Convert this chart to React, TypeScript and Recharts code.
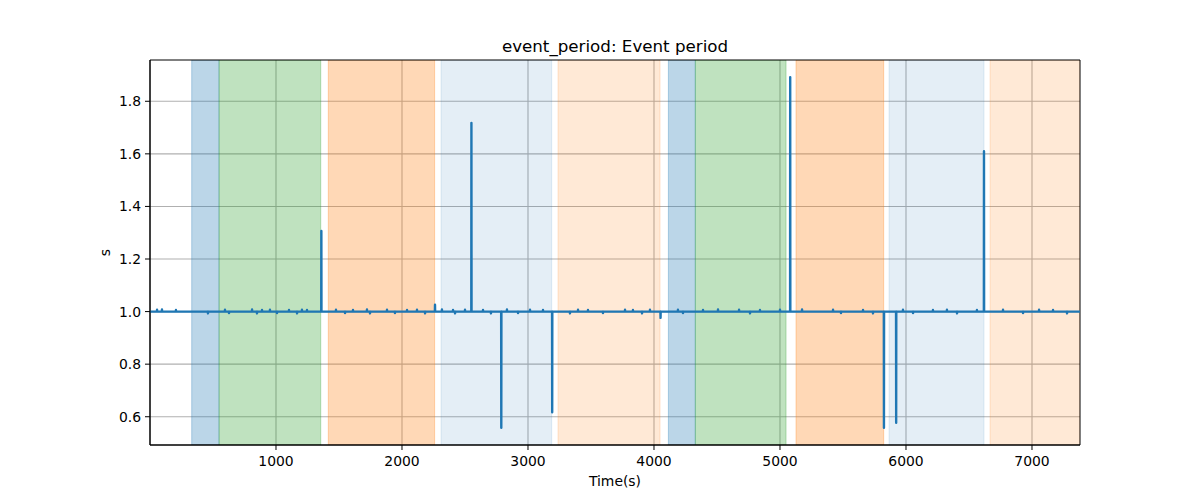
import { CartesianGrid, Label, Line, LineChart, ReferenceArea, XAxis, YAxis } from 'recharts';

// event period samples: the trace sits at 1.0 s with a few tall glitches
const spikeTimes = [1360, 2262, 2551, 2788, 3192, 4052, 5081, 5825, 5922, 6619];
const spikeValues = [1.307, 1.026, 1.718, 0.558, 0.617, 0.976, 1.892, 0.558, 0.577, 1.61];

// little ticks of jitter along the 1.0 line
const jitterTimes = [
    56, 95, 206, 460, 595, 627, 810, 849, 889, 952, 1008, 1103, 1167, 1206, 1246,
    1476, 1548, 1611, 1722, 1746, 1881, 1944, 2040, 2119, 2183, 2317, 2405, 2421, 2500,
    2643, 2706, 2833, 2921, 3016, 3119, 3333, 3397, 3476, 3595, 3770, 3833, 3905, 3968,
    4190, 4230, 4389, 4508, 4675, 4762, 4841, 5000, 5175, 5421, 5484, 5659, 5738,
    5976, 6056, 6214, 6325, 6405, 6563, 6770, 6929, 7056, 7167, 7278,
];
const jitterValues = [
    1.007, 1.008, 1.006, 0.993, 1.007, 0.994, 1.008, 0.993, 1.006, 1.007, 0.994, 1.006, 0.993, 1.007, 1.006,
    1.007, 0.994, 1.006, 1.008, 0.993, 1.007, 0.994, 1.006, 1.007, 0.993, 1.008, 1.006, 0.993, 1.007,
    1.006, 0.993, 1.008, 0.994, 1.007, 1.006, 0.993, 1.007, 1.006, 0.994, 1.007, 1.006, 0.993, 1.007,
    1.007, 0.994, 1.006, 1.008, 1.007, 0.993, 1.006, 1.007, 1.008, 1.007, 0.994, 1.006, 0.993,
    1.007, 0.994, 1.006, 1.007, 0.993, 1.006, 1.007, 0.994, 1.007, 1.006, 0.993,
];

const baseValue = 1.0;
const startTime = 0;
const endTime = 7381;

// shaded phases
const bandStarts = [331, 548, 1415, 2310, 3238, 4114, 4328, 5127, 5865, 6667];
const bandEnds = [548, 1355, 2259, 3188, 4048, 4328, 5048, 5823, 6619, 7381];
const bandColors = ['#1f77b4', '#2ca02c', '#ff7f0e', '#1f77b4', '#ff7f0e', '#1f77b4', '#2ca02c', '#ff7f0e', '#1f77b4', '#ff7f0e'];
const bandAlphas = [0.3, 0.3, 0.3, 0.12, 0.17, 0.3, 0.3, 0.3, 0.12, 0.17];

const xTicks = [1000, 2000, 3000, 4000, 5000, 6000, 7000];
const yTicks = [0.6, 0.8, 1.0, 1.2, 1.4, 1.6, 1.8];
const yDomain = [0.4925, 1.957];

const buildData = () => {
    const marks = [
        ...spikeTimes.map((t, i) => ({ t, v: spikeValues[i] })),
        ...jitterTimes.map((t, i) => ({ t, v: jitterValues[i] })),
    ].sort((a, b) => a.t - b.t);
    const rows: { t: number; v: number }[] = [{ t: startTime, v: baseValue }];
    marks.forEach((m) => {
        rows.push({ t: m.t - 1, v: baseValue });
        rows.push(m);
        rows.push({ t: m.t + 1, v: baseValue });
    });
    rows.push({ t: endTime, v: baseValue });
    return rows;
};

const data = buildData();

const FONT = "'DejaVu Sans', sans-serif";
const tickStyle = { fill: '#000', fontSize: 13.9, fontFamily: FONT };

const App = () => {
    return (
        <div style={{ position: 'absolute', left: 0, top: 0, width: 1200, height: 500, background: '#fff' }}>
            <div
                style={{
                    position: 'absolute',
                    left: 150,
                    width: 930,
                    top: 36,
                    lineHeight: '20px',
                    textAlign: 'center',
                    fontFamily: FONT,
                    fontSize: 16.7,
                    color: '#000',
                }}
            >
                event_period: Event period
            </div>
            <LineChart width={1200} height={500} data={data} margin={{ top: 60, right: 120, bottom: 0, left: 80 }}>
                {bandStarts.map((s, i) => (
                    <ReferenceArea
                        key={`band-${i}`}
                        x1={s}
                        x2={bandEnds[i]}
                        y1={yDomain[0]}
                        y2={yDomain[1]}
                        fill={bandColors[i]}
                        fillOpacity={bandAlphas[i]}
                        stroke={bandColors[i]}
                        strokeOpacity={bandAlphas[i]}
                        strokeWidth={1}
                        ifOverflow="hidden"
                    />
                ))}
                <CartesianGrid stroke="#b0b0b0" strokeWidth={1.1} horizontalValues={yTicks} verticalValues={xTicks} />
                <XAxis
                    type="number"
                    dataKey="t"
                    domain={[startTime, endTime]}
                    ticks={xTicks}
                    allowDataOverflow
                    height={55}
                    stroke="#000"
                    tickSize={5}
                    tickMargin={6}
                    tick={tickStyle}
                    tickLine={{ stroke: '#000' }}
                >
                    <Label value="Time(s)" position="insideBottom" offset={14} style={tickStyle} />
                </XAxis>
                <YAxis
                    type="number"
                    domain={yDomain}
                    ticks={yTicks}
                    allowDataOverflow
                    width={70}
                    stroke="#000"
                    tickSize={5}
                    tickMargin={4}
                    tick={tickStyle}
                    tickLine={{ stroke: '#000' }}
                    tickFormatter={(v: number) => v.toFixed(1)}
                >
                    <Label value="s" angle={-90} position="insideLeft" offset={25} textAnchor="middle" style={tickStyle} />
                </YAxis>
                <Line
                    type="linear"
                    dataKey="v"
                    stroke="#1f77b4"
                    strokeWidth={2.4}
                    strokeLinecap="square"
                    strokeLinejoin="round"
                    dot={false}
                    isAnimationActive={false}
                />
                <ReferenceArea
                    x1={startTime}
                    x2={endTime}
                    y1={yDomain[0]}
                    y2={yDomain[1]}
                    fill="none"
                    stroke="#000"
                    strokeWidth={1}
                />
            </LineChart>
        </div>
    );
};

export default App;
